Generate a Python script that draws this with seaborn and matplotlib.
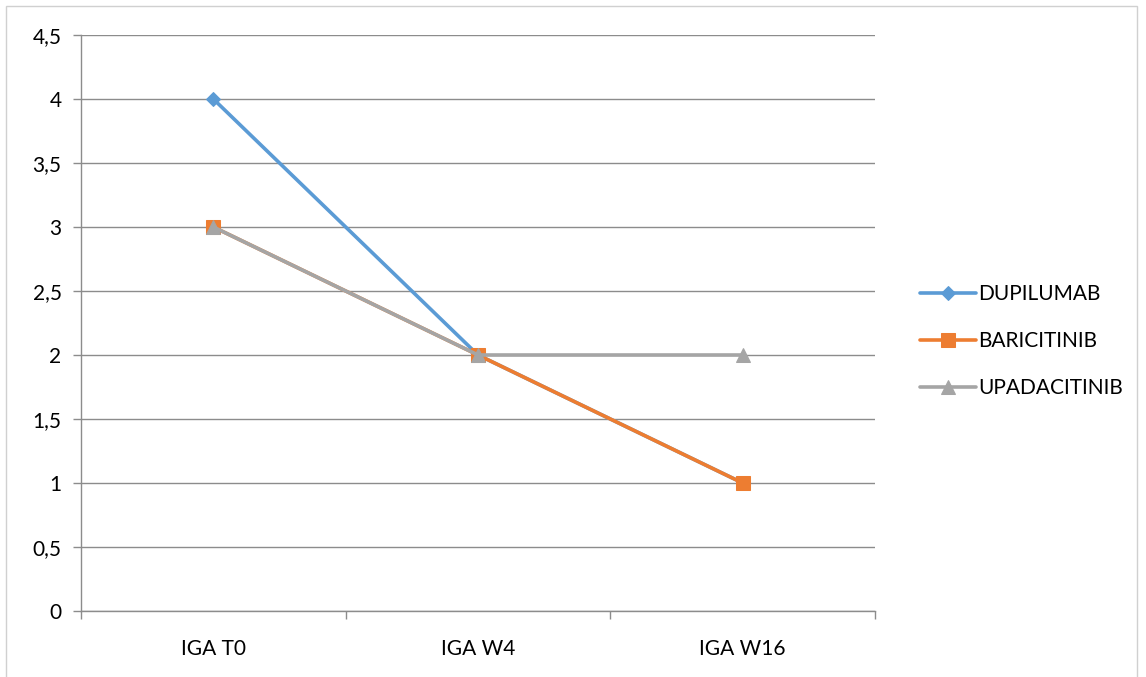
import matplotlib
matplotlib.use("Agg")
import matplotlib.pyplot as plt
from matplotlib.patches import Rectangle
from matplotlib.ticker import FuncFormatter, MultipleLocator, FixedLocator
import seaborn as sns
import pandas as pd

# Data
timepoints = ["IGA T0", "IGA W4", "IGA W16"]
dupilumab = [4, 2, 1]
baricitinib = [3, 2, 1]
upadacitinib = [3, 2, 2]
series_names = ["DUPILUMAB", "BARICITINIB", "UPADACITINIB"]
series_values = [dupilumab, baricitinib, upadacitinib]

rows = []
for name, vals in zip(series_names, series_values):
    for i, (t, v) in enumerate(zip(timepoints, vals)):
        rows.append({"pos": i, "timepoint": t, "drug": name, "iga": v})
df = pd.DataFrame(rows)

sns.set_theme(style="white")
plt.rcParams["font.family"] = ["Lato", "DejaVu Sans"]

palette = {"DUPILUMAB": "#5B9BD5", "BARICITINIB": "#ED7D31", "UPADACITINIB": "#A5A5A5"}
markers = {"DUPILUMAB": "D", "BARICITINIB": "s", "UPADACITINIB": "^"}
msizes = {"DUPILUMAB": 7.5, "BARICITINIB": 10, "UPADACITINIB": 10}

fig = plt.figure(figsize=(11.46, 6.77), dpi=100)
ax = fig.add_axes([81 / 1146, 1 - 611 / 677, (875 - 81) / 1146, (611 - 35) / 677])

# outer chart frame
fig.patches.append(Rectangle((6 / 1146, -0.01), (1137 - 6) / 1146, 1 - 6 / 677 + 0.01,
                             transform=fig.transFigure, fill=False,
                             edgecolor="#D0D0D0", linewidth=1.0, zorder=0))

for name in series_names:
    sub = df[df["drug"] == name]
    sns.lineplot(data=sub, x="pos", y="iga", ax=ax, color=palette[name],
                 marker=markers[name], markersize=msizes[name],
                 markeredgecolor=palette[name], linewidth=2.6,
                 label=name, sort=False, zorder=3)

ax.set_xlim(-0.5, 2.5)
ax.set_ylim(0, 4.5)
ax.yaxis.set_major_locator(MultipleLocator(0.5))
ax.yaxis.set_major_formatter(FuncFormatter(
    lambda v, p: ("%g" % v).replace(".", ",")))
ax.grid(axis="y", color="#8C8C8C", linewidth=1.0)
ax.set_axisbelow(True)

# category labels centred, tick marks on category boundaries
ax.xaxis.set_major_locator(FixedLocator([-0.5, 0.5, 1.5, 2.5]))
ax.xaxis.set_major_formatter(FuncFormatter(lambda v, p: ""))
ax.xaxis.set_minor_locator(FixedLocator([0, 1, 2]))
ax.xaxis.set_minor_formatter(FuncFormatter(lambda v, p: timepoints[int(round(v))]))
ax.tick_params(axis="x", which="major", bottom=True, length=6, width=1, color="#8C8C8C")
ax.tick_params(axis="x", which="minor", bottom=False, length=0, labelsize=15, pad=20,
               labelcolor="black")
ax.tick_params(axis="y", left=True, length=6, width=1, color="#8C8C8C", labelsize=15,
               pad=8, labelcolor="black")

for side in ["top", "right"]:
    ax.spines[side].set_visible(False)
for side in ["left", "bottom"]:
    ax.spines[side].set_color("#8C8C8C")
    ax.spines[side].set_linewidth(1.0)

ax.set_xlabel("")
ax.set_ylabel("")

leg = ax.legend(loc="center left", bbox_to_anchor=(901 / 1146, 1 - 341 / 677),
                bbox_transform=fig.transFigure, frameon=False, fontsize=15,
                handlelength=2.7, handletextpad=0.1, labelspacing=1.3)
for text in leg.get_texts():
    text.set_color("black")

fig.savefig("out.png", dpi=100)
